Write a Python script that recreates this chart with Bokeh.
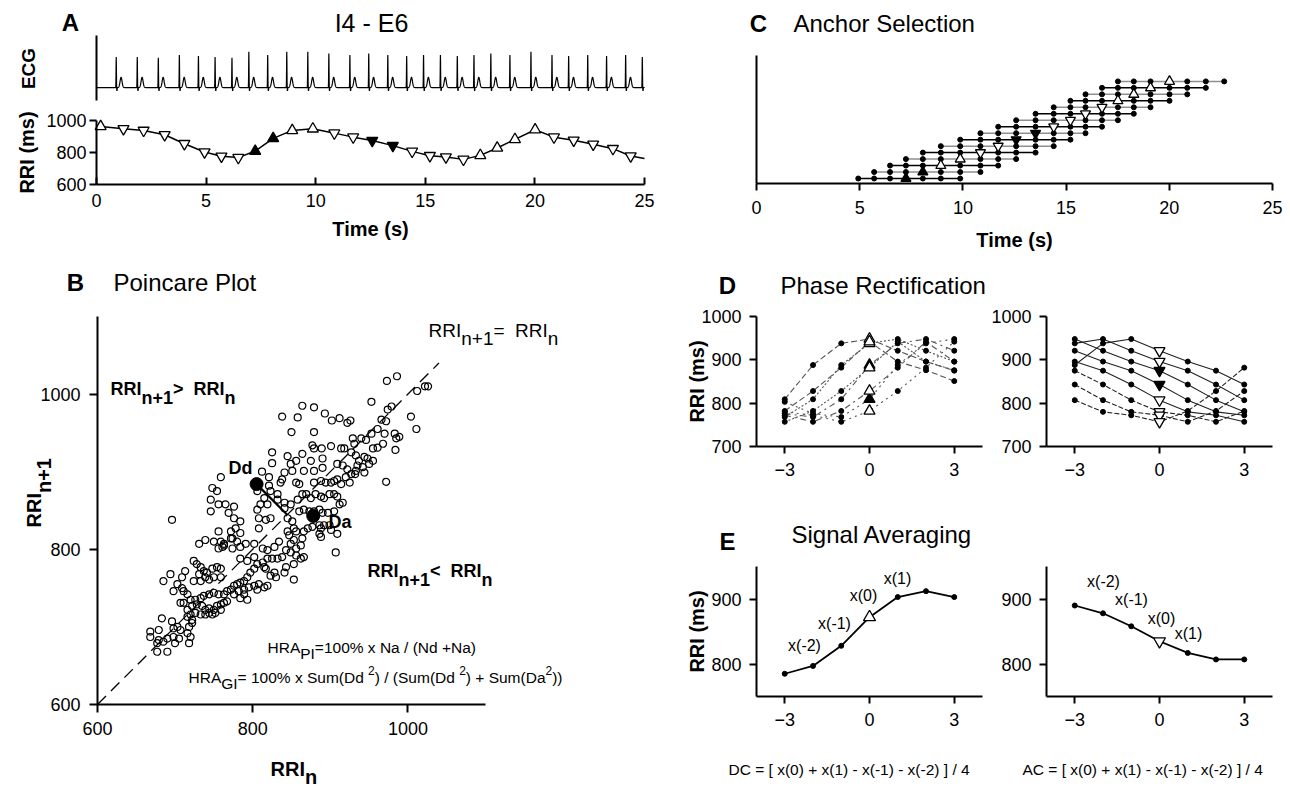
import math
import numpy as np
from bokeh.plotting import figure
from bokeh.models import Label, LinearAxis, FixedTicker, Range1d
from bokeh.embed import file_html
from bokeh.resources import INLINE

# ---------------------------------------------------------------- data
# Panel A - ECG R-peak times (s) and R amplitudes (a.u.)
ecg_r_t = [0.90, 1.86, 2.82, 3.78, 4.65, 5.41, 6.18, 6.95, 7.81, 8.68, 9.64, 10.60,
           11.56, 12.42, 13.29, 14.15, 14.92, 15.69, 16.46, 17.22, 17.99, 18.86,
           19.82, 20.78, 21.54, 22.41, 23.27, 24.14, 24.90]
ecg_r_amp = [0.90, 0.90, 0.88, 0.96, 0.93, 0.90, 0.88, 1.05, 0.96, 1.05, 1.05, 1.00,
             0.96, 1.00, 0.96, 0.93, 0.96, 0.96, 0.93, 0.96, 1.00, 0.96, 1.05, 0.96,
             0.93, 0.96, 0.93, 0.96, 0.90]

# Panel A - RR intervals
beat_t = [0.19, 1.23, 2.15, 3.11, 4.01, 4.93, 5.70, 6.47, 7.24, 8.06, 8.93, 9.87,
          10.85, 11.71, 12.58, 13.52, 14.40, 15.21, 15.94, 16.74, 17.51, 18.28,
          19.09, 20.01, 20.87, 21.77, 22.66, 23.56, 24.37]
rri_ms = [963, 948, 938, 911, 855, 803, 776, 768, 809, 888, 938, 948, 921, 896,
          875, 843, 807, 780, 772, 757, 782, 828, 882, 942, 896, 876, 851, 824, 778]
rri_dir = "u" + "ddddddd" + "uuuu" + "dddddddd" + "uuuu" + "ddddd"
rri_filled = [8, 9, 14, 15]
rri_end_t = 25.0
rri_end_ms = 762
time_ticks = [0, 5, 10, 15, 20, 25]
rri_ticks = [600, 800, 1000]

# Panel B - Poincare plot (RRI_n, RRI_n+1)
pc_pairs = [
    (986, 1023), (973, 1017), (1012, 1004), (1022, 1010), (1026, 1010), (953, 990),
    (864, 985), (879, 983), (838, 971), (858, 970), (893, 975), (902, 966), (912, 969),
    (922, 963), (926, 966), (979, 984), (974, 980), (966, 967), (972, 965), (1004, 971),
    (1011, 955), (850, 951), (879, 951), (953, 949), (961, 955), (970, 949), (983, 949),
    (985, 943), (989, 945), (929, 943), (940, 943), (946, 941), (968, 936), (961, 931),
    (955, 930), (984, 928), (877, 934), (879, 930), (889, 930), (901, 933), (914, 930),
    (931, 936), (825, 925), (845, 920), (856, 914), (849, 910), (875, 914), (890, 917),
    (864, 923), (927, 925), (933, 921), (937, 914), (944, 919), (948, 917), (950, 910),
    (942, 906), (935, 908), (944, 899), (955, 914), (918, 930), (825, 911), (841, 899),
    (851, 901), (866, 901), (879, 901), (890, 905), (909, 910), (916, 908), (922, 903),
    (927, 897), (932, 897), (933, 901), (812, 900), (821, 893), (836, 886), (838, 890),
    (856, 886), (860, 884), (879, 886), (888, 888), (894, 886), (901, 886), (905, 888),
    (909, 890), (914, 884), (920, 893), (925, 886), (972, 887), (759, 893), (748, 879),
    (754, 875), (746, 864), (756, 858), (746, 849), (765, 858), (776, 855), (769, 847),
    (776, 840), (784, 836), (778, 827), (784, 821), (772, 823), (774, 814), (756, 823),
    (759, 810), (763, 805), (761, 803), (806, 875), (815, 866), (821, 882), (823, 875),
    (832, 871), (810, 858), (806, 851), (808, 840), (808, 827), (817, 838), (823, 840),
    (819, 858), (832, 864), (841, 860), (841, 853), (849, 858), (858, 864), (864, 871),
    (869, 871), (875, 866), (881, 871), (888, 868), (892, 866), (899, 871), (905, 871),
    (909, 868), (860, 849), (866, 851), (873, 849), (879, 849), (886, 851), (890, 847),
    (897, 847), (905, 849), (912, 858), (916, 860), (696, 838), (845, 840), (851, 836),
    (853, 827), (856, 823), (845, 823), (847, 818), (853, 812), (849, 807), (856, 801),
    (862, 805), (864, 814), (866, 823), (871, 827), (877, 829), (886, 831), (888, 827),
    (892, 831), (899, 831), (901, 825), (909, 820), (888, 816), (886, 820), (907, 796),
    (731, 807), (739, 812), (750, 810), (756, 801), (763, 807), (772, 814), (774, 801),
    (784, 803), (791, 807), (780, 810), (802, 807), (813, 801), (819, 799), (828, 803),
    (834, 810), (843, 799), (849, 796), (856, 792), (862, 788), (866, 790), (853, 781),
    (838, 790), (832, 788), (825, 788), (819, 788), (724, 785), (728, 781), (733, 777),
    (737, 772), (741, 770), (748, 775), (754, 777), (759, 775), (731, 768), (739, 764),
    (744, 761), (750, 764), (759, 764), (724, 759), (733, 759), (784, 788), (793, 785),
    (802, 790), (806, 781), (813, 783), (815, 777), (817, 775), (802, 775), (797, 770),
    (793, 764), (789, 759), (784, 757), (780, 755), (776, 753), (782, 746), (789, 748),
    (795, 751), (802, 753), (808, 755), (815, 751), (819, 753), (823, 766), (828, 770),
    (830, 764), (841, 770), (843, 777), (853, 761), (685, 759), (694, 768), (698, 746),
    (709, 764), (709, 750), (703, 755), (711, 746), (713, 772), (716, 742), (707, 731),
    (711, 731), (720, 735), (726, 735), (733, 737), (737, 740), (744, 742), (750, 744),
    (756, 742), (763, 742), (767, 746), (772, 748), (716, 722), (722, 727), (728, 729),
    (735, 727), (739, 722), (744, 724), (750, 722), (754, 727), (759, 729), (763, 731),
    (767, 733), (776, 742), (784, 737), (789, 742), (793, 735), (806, 748), (726, 718),
    (733, 716), (739, 716), (744, 718), (748, 716), (752, 718), (759, 722), (716, 713),
    (720, 716), (722, 709), (718, 700), (722, 705), (720, 687), (716, 692), (718, 679),
    (683, 711), (696, 707), (703, 700), (698, 698), (707, 696), (668, 694), (679, 696),
    (668, 687), (679, 683), (677, 679), (685, 681), (690, 685), (698, 687), (677, 668),
    (690, 668), (700, 679), (705, 685)]
pc_x = [a for a, b in pc_pairs]
pc_y = [b for a, b in pc_pairs]
dd_point = (805, 884)
da_point = (878, 843)
identity_ms = [600, 1040]
b_ticks = [600, 800, 1000]

# Panel C / D - anchors (indices into beat list) and lags
anchor_idx = list(range(8, 24))
lags = [-3, -2, -1, 0, 1, 2, 3]
d_ticks_y = [700, 800, 900, 1000]
lag_ticks = [-3, 0, 3]

# Panel E - averaged curves
dc_ms = [785, 797, 828, 872, 903, 912, 903]
ac_ms = [890, 878, 858, 835, 817, 807, 807]
e_ticks_y = [800, 900]

# ---------------------------------------------------------------- page & helpers
W, H = 1288, 790
FONT = "Liberation Sans"
TICK = 18
LET = 24
TIT = 24
REG = {' ': .278, '%': .889, '(': .333, ')': .333, '+': .584, '-': .333, '/': .278,
       '=': .584, '<': .584, '>': .584, '[': .278, ']': .278, 'A': .667, 'C': .722,
       'D': .722, 'G': .778, 'H': .722, 'I': .278, 'N': .722, 'P': .667, 'R': .722,
       'S': .667, 'a': .556, 'd': .556, 'm': .833, 'n': .556, 'u': .556, 'x': .5}
BOLD = {' ': .278, '+': .584, '<': .584, '>': .584, '=': .584, 'R': .722, 'I': .278,
        'n': .611, 'D': .722, 'a': .556, 'd': .611}


def tw(s, size, bold=False):
    tab = BOLD if bold else REG
    return sum(tab.get(c, .556) for c in s) * size


def xr(d0, d1, p0, p1):
    s = (p1 - p0) / (d1 - d0)
    return Range1d(d0 - p0 / s, d0 + (W - p0) / s)


def yr(d0, d1, pb, pt):
    s = (pb - pt) / (d1 - d0)
    return Range1d(d0 - (H - pb) / s, d0 + pb / s)


p = figure(width=W, height=H, x_range=Range1d(0, W), y_range=Range1d(H, 0),
           x_axis_type=None, y_axis_type=None, output_backend="svg",
           toolbar_location=None, min_border=0)
p.outline_line_color = None
p.background_fill_color = "white"
p.border_fill_color = "white"

p.extra_x_ranges = {
    "ax": xr(0, 25, 96, 644),
    "bx": xr(600, 1100, 97, 485),
    "cx": xr(0, 25, 756, 1272),
    "d1x": xr(-4, 4, 756, 982),
    "d2x": xr(-4, 4, 1046, 1272),
}
p.extra_y_ranges = {
    "aey": yr(-0.38, 1.53, 100, 35),
    "ary": yr(600, 1000, 184, 120),
    "by": yr(600, 1100, 704, 316),
    "cy": yr(0.23, 20.0, 183, 55),
    "dy": yr(700, 1000, 446, 316),
    "ey": yr(750, 950, 696, 566),
}


def txt(px, py, s, size, bold=False, align="left", baseline="alphabetic", angle=0.0):
    p.add_layout(Label(x=px, y=py, text=s, angle=angle, text_font=FONT,
                       text_font_size=f"{size}px",
                       text_font_style="bold" if bold else "normal",
                       text_align=align, text_baseline=baseline, text_color="black"))


def run(x0, y0, pieces):
    x = x0
    for s, dy, size, bold in pieces:
        txt(x, y0 + dy, s, size, bold)
        x += tw(s, size, bold)


def axis(side, xn, yn, loc, bounds, ticks, t_in=0, t_out=7, standoff=8):
    ax = LinearAxis(x_range_name=xn, y_range_name=yn, fixed_location=loc, bounds=bounds,
                    ticker=FixedTicker(ticks=ticks, minor_ticks=[]),
                    axis_line_width=2, axis_line_color="black",
                    major_tick_in=t_in, major_tick_out=t_out, major_tick_line_width=2,
                    major_tick_line_color="black", minor_tick_in=0, minor_tick_out=0,
                    major_label_standoff=standoff, major_label_text_font=FONT,
                    major_label_text_font_size=f"{TICK}px", major_label_text_color="black")
    p.add_layout(ax, side)


def draw_tris(xs, ys, dirs, filled, size, xn, yn):
    groups = {}
    for i, (x, y) in enumerate(zip(xs, ys)):
        key = ("triangle" if dirs[i] == "u" else "inverted_triangle", i in filled)
        groups.setdefault(key, ([], []))
        groups[key][0].append(x)
        groups[key][1].append(y)
    for (mk, fill), (gx, gy) in groups.items():
        p.scatter(gx, gy, marker=mk, size=size, line_color="black", line_width=1.3,
                  fill_color="black" if fill else "white", x_range_name=xn, y_range_name=yn)


R90 = math.pi / 2

# ---------------------------------------------------------------- panel A (ECG)
axis("left", "ax", "aey", 0, (-0.38, 1.53), [], t_out=0, standoff=0)
tt = np.linspace(0, 25, 5001)
sig = np.zeros_like(tt)
for tr, a in zip(ecg_r_t, ecg_r_amp):
    sig += a * np.exp(-0.5 * ((tt - tr) / 0.008) ** 2)
    sig -= 0.10 * np.exp(-0.5 * ((tt - tr - 0.03) / 0.01) ** 2)
    sig += 0.30 * np.exp(-0.5 * ((tt - tr - 0.22) / 0.045) ** 2)
p.line(tt, sig, line_color="black", line_width=1.2, x_range_name="ax", y_range_name="aey")
txt(70, 22, "A", LET, True, align="center")
txt(371, 22, "I4 - E6", 25, align="center")
txt(28, 68, "ECG", 19, True, align="center", angle=R90)

# ---------------------------------------------------------------- panel A (RRI)
axis("left", "ax", "ary", 0, (600, 1000), rri_ticks, t_out=7, standoff=3)
axis("below", "ax", "ary", 600, (0, 25), time_ticks, t_in=7, t_out=0, standoff=9)
p.line(beat_t + [rri_end_t], rri_ms + [rri_end_ms], line_color="black", line_width=1.5,
       x_range_name="ax", y_range_name="ary")
draw_tris(beat_t, rri_ms, rri_dir, rri_filled, 11, "ax", "ary")
txt(26, 152, "RRI (ms)", 20, True, align="center", angle=R90)
txt(370, 228, "Time (s)", 20, True, align="center")

# ---------------------------------------------------------------- panel B
axis("left", "bx", "by", 600, (600, 1100), b_ticks, t_out=8, standoff=9)
axis("below", "bx", "by", 600, (600, 1100), b_ticks, t_out=8, standoff=9)
p.line(identity_ms, identity_ms, line_color="black", line_width=1.3, line_dash="12 7",
       x_range_name="bx", y_range_name="by")
p.scatter(pc_x, pc_y, marker="circle", size=7, line_color="black", line_width=1.2,
          fill_color=None, x_range_name="bx", y_range_name="by")
foot = (dd_point[0] + dd_point[1]) / 2.0
p.line([dd_point[0], foot], [dd_point[1], foot], line_color="black", line_width=2.2,
       x_range_name="bx", y_range_name="by")
p.scatter([dd_point[0], da_point[0]], [dd_point[1], da_point[1]], marker="circle", size=13,
          fill_color="black", line_color="black", x_range_name="bx", y_range_name="by")
txt(75, 282, "B", LET, True, align="center")
txt(113, 282, "Poincare Plot", TIT)
run(428, 330, [("RRI", 0, 19, False), ("n+1", 8, 19, False), (" = ", 0, 19, False),
               ("RRI", 0, 19, False), ("n", 8, 19, False)])
run(110, 388, [("RRI", 0, 18, True), ("n+1", 9, 18, True), (" > ", 0, 18, True),
               ("RRI", 0, 18, True), ("n", 9, 18, True)])
run(367, 570, [("RRI", 0, 18, True), ("n+1", 9, 18, True), (" < ", 0, 18, True),
               ("RRI", 0, 18, True), ("n", 9, 18, True)])
txt(228, 467, "Dd", 18, True)
txt(328, 521, "Da", 18, True)
run(267, 647, [("HRA", 0, 15.5, False), ("PI", 6, 15.5, False),
               (" =100% x Na / (Nd +Na)", 0, 15.5, False)])
run(188, 677, [("HRA", 0, 15.5, False), ("GI", 6, 15.5, False),
               (" = 100% x Sum(Dd", 0, 15.5, False), ("2", -7, 12, False),
               (") /  (Sum(Dd", 0, 15.5, False), ("2", -7, 12, False),
               (") + Sum(Da", 0, 15.5, False), ("2", -7, 12, False),
               ("))", 0, 15.5, False)])
txt(33, 527, "RRI", 20, True, angle=R90)
txt(43, 527 - tw("RRI", 20, True), "n+1", 20, True, angle=R90)
txt(270, 768, "RRI", 20, True)
txt(270 + tw("RRI", 20, True), 776, "n", 20, True)

# ---------------------------------------------------------------- panel C
axis("left", "cx", "cy", 0, (0.23, 20.0), [], t_out=0, standoff=0)
axis("below", "cx", "cy", 0.23, (0, 25), time_ticks, t_out=7, standoff=10)
for k, a in enumerate(anchor_idx):
    xs = beat_t[a - 3:a + 4]
    ys = [k + 1] * 7
    p.line(xs, ys, line_color="black" if k % 2 == 0 else "#8f8f8f", line_width=1.5,
           x_range_name="cx", y_range_name="cy")
for k, a in enumerate(anchor_idx):
    xs = beat_t[a - 3:a + 4]
    ys = [k + 1] * 7
    p.scatter(xs[:3] + xs[4:], ys[:3] + ys[4:], marker="circle", size=5,
              fill_color="black", line_color="black", x_range_name="cx", y_range_name="cy")
draw_tris([beat_t[a] for a in anchor_idx], [k + 1 for k in range(len(anchor_idx))],
          [rri_dir[a] for a in anchor_idx],
          [k for k, a in enumerate(anchor_idx) if a in rri_filled], 10, "cx", "cy")
txt(758, 23, "C", LET, True, align="center")
txt(793, 23, "Anchor Selection", TIT)
txt(1014, 239, "Time (s)", 20, True, align="center")

# ---------------------------------------------------------------- panel D
for xn in ("d1x", "d2x"):
    axis("left", xn, "dy", -4, (700, 1000), d_ticks_y, t_out=7, standoff=8)
    axis("below", xn, "dy", 700, (-4, 4), lag_ticks, t_out=7, standoff=9)
up_a = [a for a in anchor_idx if rri_dir[a] == "u"]
dn_a = [a for a in anchor_idx if rri_dir[a] == "d"]
dash_l = ["dotted", "dashdot", "2 2", "6 3", "dotted", "dashdot", "2 2", "6 3"]
for j, a in enumerate(up_a):
    p.line(lags, rri_ms[a - 3:a + 4], line_color="#555555", line_width=1.1,
           line_dash=dash_l[j], x_range_name="d1x", y_range_name="dy")
for j, a in enumerate(dn_a):
    p.line(lags, rri_ms[a - 3:a + 4], line_color="#222222", line_width=1.1,
           line_dash="solid" if j < 5 else "5 2", x_range_name="d2x", y_range_name="dy")
for xn, grp in (("d1x", up_a), ("d2x", dn_a)):
    for a in grp:
        v = rri_ms[a - 3:a + 4]
        p.scatter(lags[:3] + lags[4:], v[:3] + v[4:], marker="circle", size=5,
                  fill_color="black", line_color="black", x_range_name=xn, y_range_name="dy")
    draw_tris([0] * len(grp), [rri_ms[a] for a in grp], [rri_dir[a] for a in grp],
              [j for j, a in enumerate(grp) if a in rri_filled], 11, xn, "dy")
txt(727, 285, "D", LET, True, align="center")
txt(780, 285, "Phase Rectification", TIT)
txt(696, 381, "RRI (ms)", 20, True, align="center", angle=R90)

# ---------------------------------------------------------------- panel E
for xn, vals, mk in (("d1x", dc_ms, "triangle"), ("d2x", ac_ms, "inverted_triangle")):
    axis("left", xn, "ey", -4, (750, 950), e_ticks_y, t_out=7, standoff=8)
    axis("below", xn, "ey", 750, (-4, 4), lag_ticks, t_out=7, standoff=9)
    p.line(lags, vals, line_color="black", line_width=1.8, x_range_name=xn, y_range_name="ey")
    p.scatter(lags[:3] + lags[4:], vals[:3] + vals[4:], marker="circle", size=5,
              fill_color="black", line_color="black", x_range_name=xn, y_range_name="ey")
    p.scatter([lags[3]], [vals[3]], marker=mk, size=12, fill_color="white",
              line_color="black", line_width=1.3, x_range_name=xn, y_range_name="ey")
txt(727, 541, "E", LET, True, align="center")
txt(791, 534, "Signal Averaging", TIT)
txt(696, 631, "RRI (ms)", 20, True, align="center", angle=R90)
for (px, py, s) in ((804, 645, "x(-2)"), (834, 623, "x(-1)"), (863, 595, "x(0)"),
                    (897, 578, "x(1)"), (1103, 581, "x(-2)"), (1131, 599, "x(-1)"),
                    (1161, 618, "x(0)"), (1188, 633, "x(1)")):
    txt(px, py, s, 16, align="center", baseline="middle")
txt(728, 769, "DC = [ x(0) + x(1) - x(-1) - x(-2) ] / 4", 15.5)
txt(1022, 769, "AC = [ x(0) + x(1) - x(-1) - x(-2) ] / 4", 15.5)

open("out.html", "w").write(file_html(p, INLINE))
